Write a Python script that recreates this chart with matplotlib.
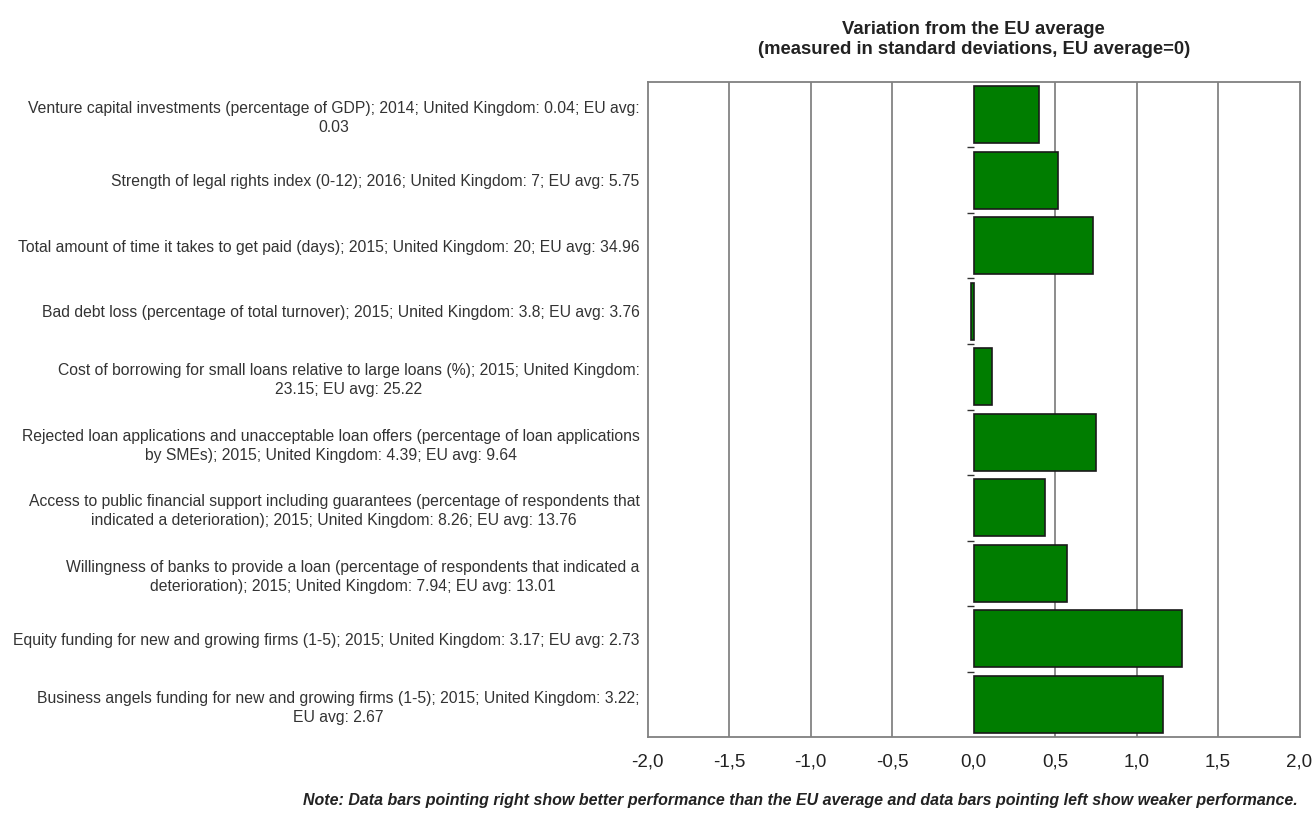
import matplotlib.pyplot as plt
from matplotlib.ticker import FuncFormatter

plt.rcParams['font.family'] = ['Liberation Sans', 'DejaVu Sans']

# indicators, top to bottom
labels = [
    "Venture capital investments (percentage of GDP); 2014; United Kingdom: 0.04; EU avg:\n0.03",
    "Strength of legal rights index (0-12); 2016; United Kingdom: 7; EU avg: 5.75",
    "Total amount of time it takes to get paid (days); 2015; United Kingdom: 20; EU avg: 34.96",
    "Bad debt loss (percentage of total turnover); 2015; United Kingdom: 3.8; EU avg: 3.76",
    "Cost of borrowing for small loans relative to large loans (%); 2015; United Kingdom:\n23.15; EU avg: 25.22",
    "Rejected loan applications and unacceptable loan offers (percentage of loan applications\nby SMEs); 2015; United Kingdom: 4.39; EU avg: 9.64",
    "Access to public financial support including guarantees (percentage of respondents that\nindicated a deterioration); 2015; United Kingdom: 8.26; EU avg: 13.76",
    "Willingness of banks to provide a loan (percentage of respondents that indicated a\ndeterioration); 2015; United Kingdom: 7.94; EU avg: 13.01",
    "Equity funding for new and growing firms (1-5); 2015; United Kingdom: 3.17; EU avg: 2.73",
    "Business angels funding for new and growing firms (1-5); 2015; United Kingdom: 3.22;\nEU avg: 2.67",
]
values = [0.40, 0.52, 0.73, -0.015, 0.11, 0.75, 0.44, 0.57, 1.28, 1.16]
xticks = [-2.0, -1.5, -1.0, -0.5, 0.0, 0.5, 1.0, 1.5, 2.0]

fig = plt.figure(figsize=(13.14, 8.19), dpi=100)
ax = fig.add_axes([0.493, 0.100, 0.496, 0.800])

pos = list(range(len(labels)))
ax.barh(pos, values, height=0.87, color='#007d00', edgecolor='#1a1a1a', linewidth=1.2, zorder=3)
ax.set_ylim(len(labels) - 0.5, -0.5)
ax.set_xlim(-2, 2)

ax.set_xticks(xticks)
ax.xaxis.set_major_formatter(FuncFormatter(lambda v, p: f"{v:.1f}".replace('.', ',')))
ax.tick_params(axis='x', length=0, pad=12, labelsize=13.5, colors='#222222')

for v in xticks[1:-1]:
    if v != 0:
        ax.axvline(v, color='#6e6e6e', linewidth=1.1, zorder=1)

ax.set_yticks(pos)
ax.set_yticklabels(labels, fontsize=11.3, color='#333333', multialignment='center', linespacing=1.35)
ax.tick_params(axis='y', length=0, pad=6)

for s in ax.spines.values():
    s.set_color('#808080')
    s.set_linewidth(1.3)

# small category ticks at the zero line
sec = ax.secondary_yaxis(0.5)
sec.set_yticks([p + 0.5 for p in pos[:-1]])
sec.set_yticklabels([])
sec.spines['left'].set_visible(False)
sec.spines['right'].set_visible(False)
sec.tick_params(length=5, width=1, color='#333333', direction='in')

fig.text(0.741, 0.952, "Variation from the EU average\n(measured in standard deviations, EU average=0)",
         ha='center', va='center', fontsize=13.3, fontweight='bold', color='#222222', linespacing=1.25)

fig.text(0.988, 0.013,
         "Note: Data bars pointing right show better performance than the EU average and data bars pointing left show weaker performance.",
         ha='right', va='bottom', fontsize=11.5, fontweight='bold', style='italic', color='#222222')

plt.savefig('out.png', dpi=100)
